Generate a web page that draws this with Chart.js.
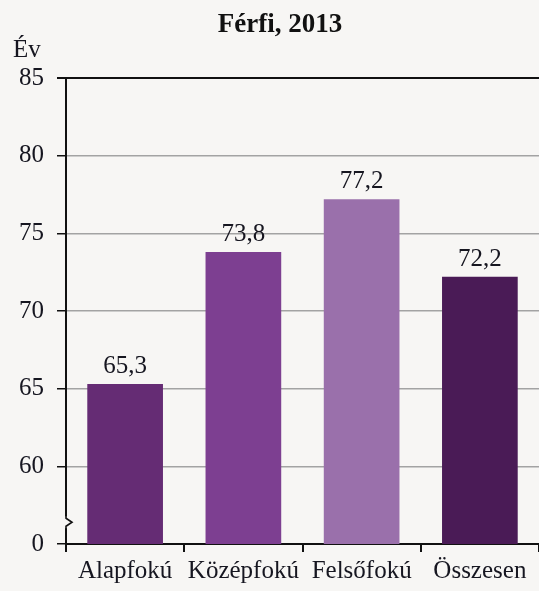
<!DOCTYPE html>
<html><head><meta charset="utf-8">
<script src="https://cdn.jsdelivr.net/npm/chart.js@4/dist/chart.umd.min.js"></script>
<style>html,body{margin:0;padding:0;background:#f7f6f4;}#wrap{width:539px;height:591px;}</style>
</head><body><div id="wrap"><canvas id="c" width="539" height="591"></canvas></div>
<script>
const categories = ['Alapfokú', 'Középfokú', 'Felsőfokú', 'Összesen'];
const values = [65.3, 73.8, 77.2, 72.2];
const barColors = ['#652c74', '#7d3f91', '#9a70ab', '#4a1b56'];
const titleText = 'Férfi, 2013';
const yUnit = 'Év';
const yMin = 55, yMax = 85, yStep = 5;

const FONT = '"Liberation Serif", "Times New Roman", serif';
const TXT = '#161620';

const custom = {
  id: 'custom',
  beforeDraw(chart) {
    const ctx = chart.ctx;
    ctx.save();
    ctx.fillStyle = '#f7f6f4';
    ctx.fillRect(0, 0, chart.width, chart.height);
    ctx.restore();
  },
  afterDraw(chart) {
    const ctx = chart.ctx;
    const y = chart.scales.y;
    const x0 = chart.chartArea.left;
    ctx.save();
    // title
    ctx.fillStyle = '#111';
    ctx.font = 'bold 27px ' + FONT;
    ctx.textAlign = 'center';
    ctx.textBaseline = 'alphabetic';
    ctx.fillText(titleText, 280, 32);
    // unit
    ctx.font = '25px ' + FONT;
    ctx.textAlign = 'left';
    ctx.fillStyle = TXT;
    ctx.fillText(yUnit, 13, 57);
    // data labels
    const meta = chart.getDatasetMeta(0);
    ctx.textAlign = 'center';
    ctx.font = '25px ' + FONT;
    meta.data.forEach((bar, i) => {
      ctx.fillText(values[i].toFixed(1).replace('.', ','), bar.x, bar.y - 11);
    });
    // axis break
    const yb = y.getPixelForValue(56.4);
    ctx.fillStyle = '#f7f6f4';
    ctx.fillRect(x0 - 2, yb - 6, 4, 12);
    ctx.strokeStyle = '#111';
    ctx.lineWidth = 1.6;
    ctx.beginPath();
    ctx.moveTo(x0, yb - 7);
    ctx.lineTo(x0, yb - 4);
    ctx.lineTo(x0 + 6, yb);
    ctx.lineTo(x0, yb + 4);
    ctx.lineTo(x0, yb + 8);
    ctx.stroke();
    ctx.restore();
  }
};

new Chart(document.getElementById('c'), {
  type: 'bar',
  data: {
    labels: categories,
    datasets: [{
      data: values,
      backgroundColor: barColors,
      borderWidth: 0,
      barPercentage: 0.64,
      categoryPercentage: 1.0
    }]
  },
  options: {
    responsive: false,
    animation: false,
    devicePixelRatio: 1,
    layout: { padding: { top: 78, left: 0, right: 0, bottom: 0 } },
    plugins: { legend: { display: false }, title: { display: false }, tooltip: { enabled: false } },
    scales: {
      x: {
        afterFit(s) { s.height = 47; },
        border: { display: true, color: '#111', width: 2 },
        grid: { display: true, offset: true, drawOnChartArea: false, drawTicks: true, tickLength: 8, tickColor: '#111', lineWidth: 2 },
        ticks: { color: TXT, font: { family: FONT, size: 25 }, padding: 4, maxRotation: 0, autoSkip: false }
      },
      y: {
        min: yMin, max: yMax,
        afterFit(s) { s.width = 66; },
        border: { display: true, color: '#111', width: 2 },
        grid: {
          drawTicks: true, tickLength: 9,
          color: (c) => c.tick && c.tick.value === yMax ? '#111' : (c.tick && c.tick.value === yMin ? 'rgba(0,0,0,0)' : '#a3a3a3'),
          lineWidth: (c) => c.tick && c.tick.value === yMax ? 2 : 1.5,
          tickColor: '#111'
        },
        ticks: {
          stepSize: yStep, color: TXT, font: { family: FONT, size: 25 }, padding: 13,
          callback: (v) => v === yMin ? '0' : String(v)
        }
      }
    }
  },
  plugins: [custom]
});
</script>
</body></html>
